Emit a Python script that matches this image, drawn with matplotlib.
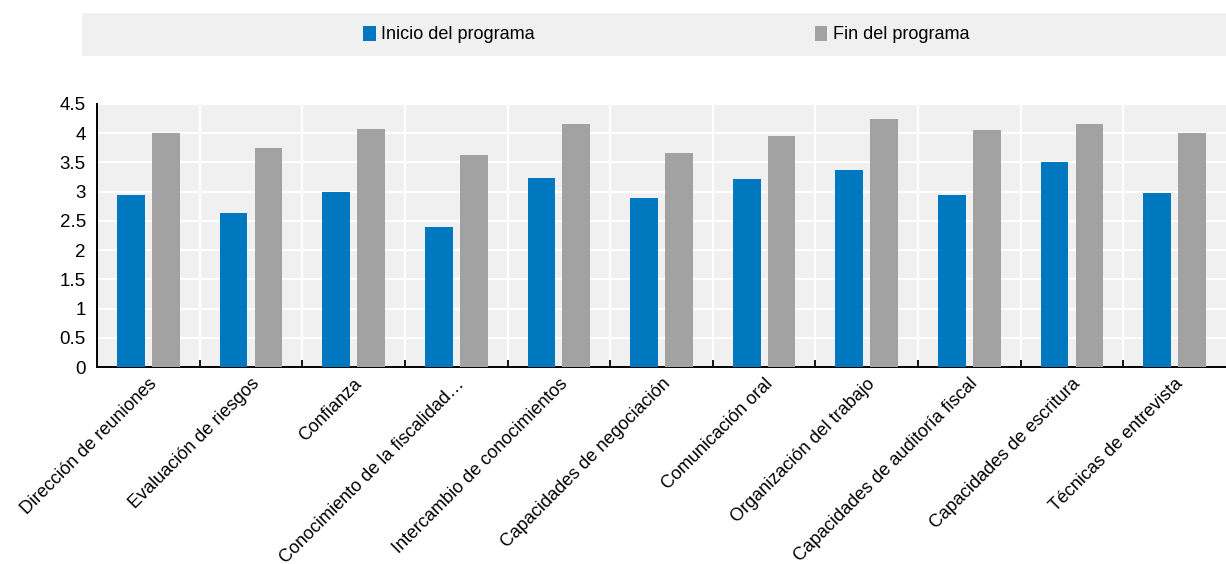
import numpy as np
import matplotlib
matplotlib.use("Agg")
import matplotlib.pyplot as plt
from matplotlib.patches import Rectangle

plt.rcParams['font.family'] = ['Liberation Sans Narrow', 'Liberation Sans', 'DejaVu Sans']

categories = [
    "Dirección de reuniones",
    "Evaluación de riesgos",
    "Confianza",
    "Conocimiento de la fiscalidad…",
    "Intercambio de conocimientos",
    "Capacidades de negociación",
    "Comunicación oral",
    "Organización del trabajo",
    "Capacidades de auditoría fiscal",
    "Capacidades de escritura",
    "Técnicas de entrevista",
]
inicio = [2.94, 2.64, 3.00, 2.40, 3.24, 2.90, 3.21, 3.37, 2.95, 3.51, 2.98]
fin = [4.00, 3.75, 4.08, 3.63, 4.15, 3.66, 3.96, 4.24, 4.06, 4.15, 4.00]
series_names = ["Inicio del programa", "Fin del programa"]

BLUE = "#0078bf"
GRAY = "#a2a2a2"
BG = "#f0f0f0"

fig = plt.figure(figsize=(12.26, 5.64), dpi=100)
ax = fig.add_axes([97 / 1226, 1 - 367 / 564, 1 - 97 / 1226, (367 - 104) / 564])
ax.set_facecolor(BG)

x = np.arange(len(categories))
w = 0.27
b1 = ax.bar(x - 0.17, inicio, w, color=BLUE, label=series_names[0], zorder=3)
b2 = ax.bar(x + 0.17, fin, w, color=GRAY, label=series_names[1], zorder=3)

ax.set_xlim(-0.5, len(categories) - 0.5)
ax.set_ylim(0, 4.5)
ax.set_yticks(np.arange(0, 4.51, 0.5))
ax.set_yticklabels(["0", "0.5", "1", "1.5", "2", "2.5", "3", "3.5", "4", "4.5"])
ax.grid(axis='y', color='white', linewidth=1.5, zorder=0)

ax.set_xticks(x)
ax.set_xticklabels(categories, rotation=45, ha='right', rotation_mode='anchor', fontsize=13)
ax.set_xticks(x[:-1] + 0.5, minor=True)
ax.grid(axis='x', which='minor', color='white', linewidth=1.5, zorder=0)
ax.tick_params(axis='x', which='major', length=0, pad=6)
ax.tick_params(axis='x', which='minor', direction='in', length=5, width=1.3, color='black')
ax.tick_params(axis='y', length=0, labelsize=13.5, pad=8)

for s in ['top', 'right']:
    ax.spines[s].set_visible(False)
for s in ['left', 'bottom']:
    ax.spines[s].set_linewidth(1.4)
    ax.spines[s].set_color('black')
ax.set_axisbelow(True)

# legend band
fig.patches.append(Rectangle((82 / 1226, 1 - 56 / 564), 1 - 82 / 1226, 43 / 564,
                             transform=fig.transFigure, facecolor=BG, edgecolor='none', zorder=0))
fig.legend(handles=[b1, b2], loc='center', bbox_to_anchor=(0.5435, 1 - 34.5 / 564), ncol=2,
           frameon=False, fontsize=13, handlelength=0.7, handleheight=0.9,
           handletextpad=0.3, columnspacing=15.5)

fig.savefig("out.png", dpi=100)
